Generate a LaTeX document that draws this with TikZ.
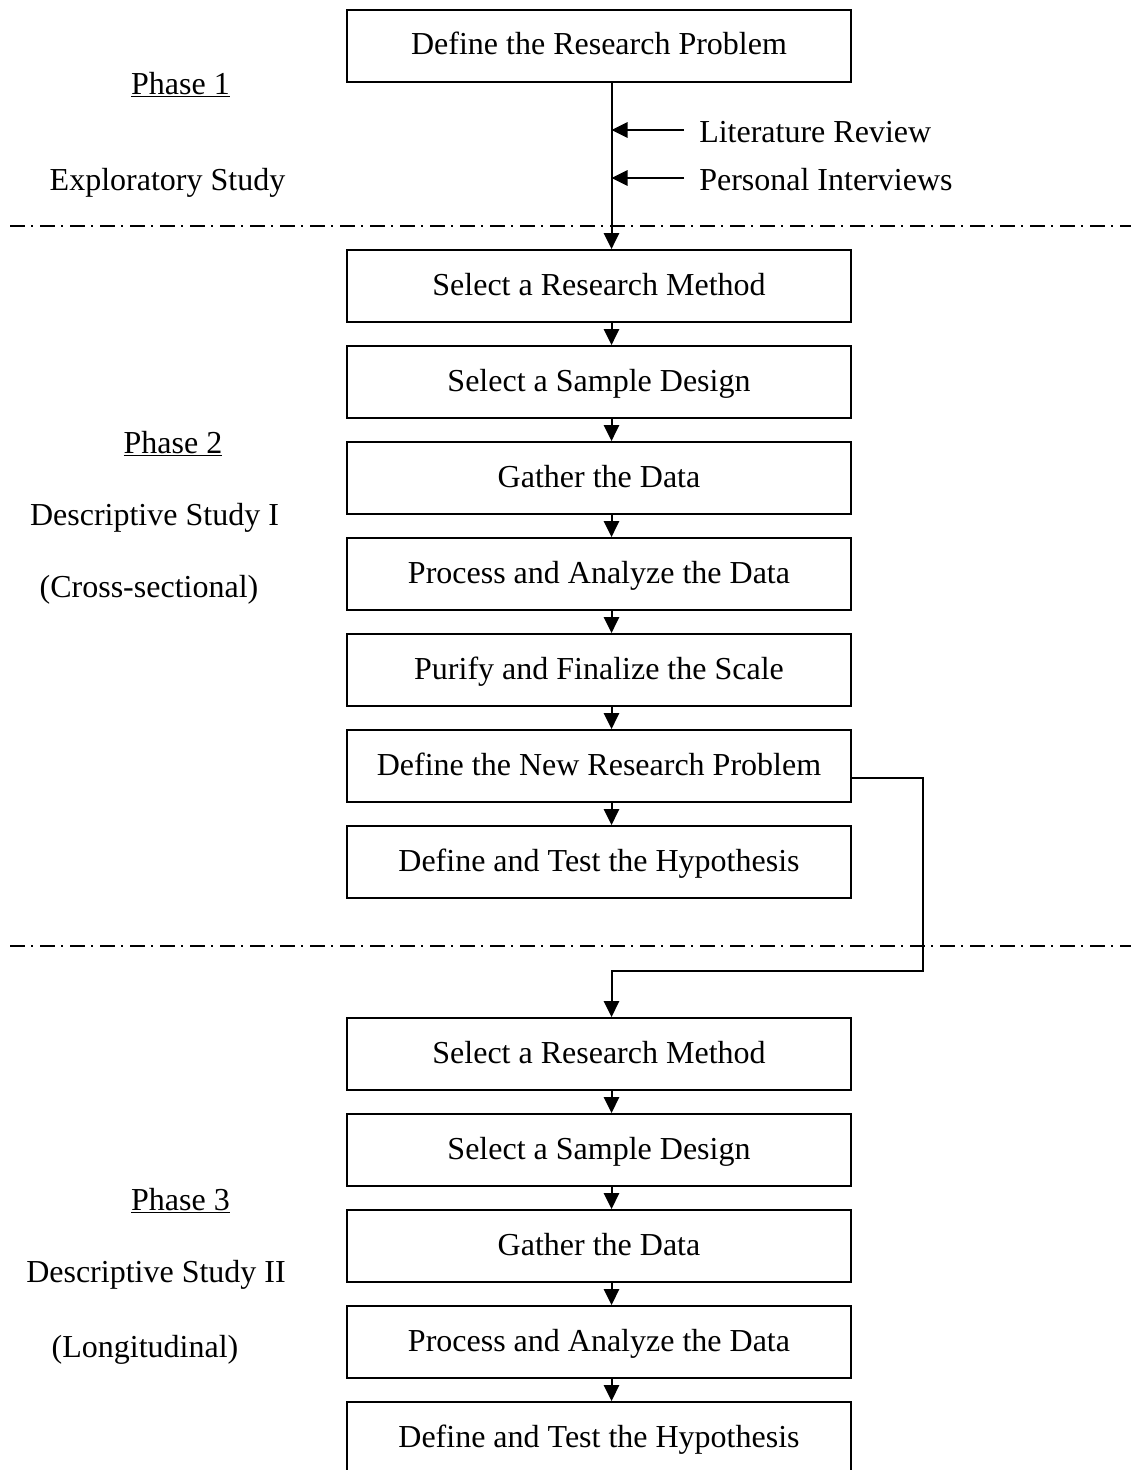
\documentclass[tikz,border=0pt]{standalone}
\usepackage{fontspec}
\setmainfont{Liberation Serif}
\usetikzlibrary{arrows.meta,calc}
\newcommand\diagfont{\fontsize{24pt}{28pt}\selectfont}
\begin{document}
\begin{tikzpicture}[x=0.75pt,y=-0.75pt,
  stepbox/.style={draw,line width=1.5pt,minimum width=378pt,minimum height=54pt,
    inner sep=0pt,text height=17pt,text depth=3.5pt,font=\diagfont},
  sidetext/.style={font=\diagfont,inner sep=0pt,anchor=base},
  flow/.style={line width=1.5pt,-{Triangle[length=12pt,width=11.5pt]}},
  phasesep/.style={line width=1.5pt,dash pattern=on 11.25pt off 4.5pt on 1.5pt off 5.25pt}]
\clip (0,0) rectangle (1131,1470);
\def\ax{9.4pt}

% process steps
\node[stepbox] (b1)  at (599,46)   {Define the Research Problem};
\node[stepbox] (b2)  at (599,286)  {Select a Research Method};
\node[stepbox] (b3)  at (599,382)  {Select a Sample Design};
\node[stepbox] (b4)  at (599,478)  {Gather the Data};
\node[stepbox] (b5)  at (599,574)  {Process and Analyze the Data};
\node[stepbox] (b6)  at (599,670)  {Purify and Finalize the Scale};
\node[stepbox] (b7)  at (599,766)  {Define the New Research Problem};
\node[stepbox] (b8)  at (599,862)  {Define and Test the Hypothesis};
\node[stepbox] (b9)  at (599,1054) {Select a Research Method};
\node[stepbox] (b10) at (599,1150) {Select a Sample Design};
\node[stepbox] (b11) at (599,1246) {Gather the Data};
\node[stepbox] (b12) at (599,1342) {Process and Analyze the Data};
\node[stepbox] (b13) at (599,1438) {Define and Test the Hypothesis};

% phase separators
\coordinate (s1a) at (10,226);  \coordinate (s1b) at (1131,226);
\coordinate (s2a) at (10,946);  \coordinate (s2b) at (1131,946);
\draw[phasesep] (s1a) -- (s1b);
\draw[phasesep] (s2a) -- (s2b);

% phase labels
\node[sidetext] (p1)  at (180.5,94.5) {\underline{Phase 1}};
\node[sidetext] (p1d) at (167.5,190)  {Exploratory Study};
\node[sidetext] (p2)  at (173,453)    {\underline{Phase 2}};
\node[sidetext] (p2d) at (154.5,525)  {Descriptive Study I};
\node[sidetext] (p2e) at (149,597)    {(Cross-sectional)};
\node[sidetext] (p3)  at (180.5,1210) {\underline{Phase 3}};
\node[sidetext] (p3d) at (156,1282)   {Descriptive Study II};
\node[sidetext] (p3e) at (145,1357)   {(Longitudinal)};

% exploratory inputs
\node[sidetext,anchor=base west] (lit) at (699,142.5) {Literature Review};
\node[sidetext,anchor=base west] (int) at (699,190.5) {Personal Interviews};
\coordinate (spine) at ([xshift=\ax]b1.south);
\coordinate (litfrom) at (684,130);
\coordinate (intfrom) at (684,178);
\draw[flow] (litfrom) -- (litfrom -| spine);
\draw[flow] (intfrom) -- (intfrom -| spine);

% main flow
\draw[flow] (spine) -- ([xshift=\ax]b2.north);
\foreach \a/\b in {b2/b3,b3/b4,b4/b5,b5/b6,b6/b7,b7/b8,b9/b10,b10/b11,b11/b12,b12/b13}
  \draw[flow] ([xshift=\ax]\a.south) -- ([xshift=\ax]\b.north);

% hand-over to phase 3
\coordinate (bend) at (923,971);
\draw[flow] ([yshift=-9pt]b7.east) -| (bend) -| ([xshift=\ax]b9.north);
\end{tikzpicture}
\end{document}
